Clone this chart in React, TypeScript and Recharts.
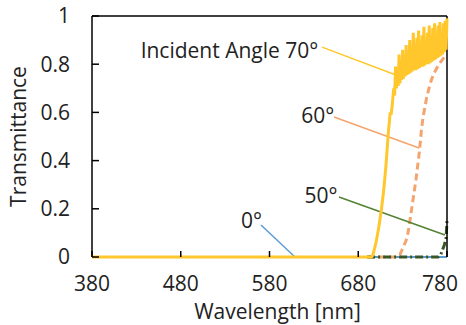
import React from 'react';
import { LineChart, Line, XAxis, YAxis, ReferenceLine, ReferenceDot } from 'recharts';

const FONT = '"Open Sans", sans-serif';
const TEXT = '#222';

// axes
const xTicks = [380, 480, 580, 680, 780];
const yTicks = [0, 0.2, 0.4, 0.6, 0.8, 1];
const xMin = 380;
const xMax = 780;
const yMin = 0;
const yMax = 1;

// 0 deg
const wl0 = [380, 780];
const t0 = [0, 0];

// 50 deg
const wl50 = [690, 770, 773, 775, 777, 779, 780];
const t50 = [0, 0, 0.01, 0.03, 0.05, 0.08, 0.15];

// 60 deg
const wl60 = [690, 724, 727, 730, 733, 735, 737, 739, 741, 743, 745, 747, 749, 751, 753, 755, 757, 759, 762, 765, 768, 771, 774, 777, 780];
const t60 = [0, 0, 0.01, 0.035, 0.06, 0.08, 0.12, 0.17, 0.22, 0.27, 0.32, 0.38, 0.44, 0.52, 0.58, 0.62, 0.66, 0.69, 0.73, 0.76, 0.78, 0.8, 0.815, 0.83, 0.84];

// 70 deg
const wl70 = [380, 695, 696, 697, 698, 699, 700, 701, 702, 703, 704, 705, 706, 707, 708, 709, 710, 711, 712, 713, 714, 715, 716, 717, 718,
  719, 720, 721, 722, 723, 724, 725, 726, 727, 728, 729, 730, 731, 732, 733, 734, 735, 736, 737, 738, 739, 740,
  741, 742, 743, 744, 745, 746, 747, 748, 749, 750, 751, 752, 753, 754, 755, 756, 757, 758, 759, 760,
  761, 762, 763, 764, 765, 766, 767, 768, 769, 770, 771, 772, 773, 774, 775, 776, 777, 778, 779, 780];
const t70 = [0, 0, 0.005, 0.015, 0.03, 0.045, 0.06, 0.08, 0.1, 0.12, 0.145, 0.17, 0.195, 0.225, 0.255, 0.29, 0.33, 0.37, 0.42, 0.47, 0.52, 0.56, 0.6, 0.59, 0.62,
  0.66, 0.7, 0.67, 0.79, 0.7, 0.76, 0.71, 0.84, 0.72, 0.8, 0.735, 0.86, 0.74, 0.82, 0.75, 0.88, 0.755, 0.84, 0.76, 0.9, 0.765, 0.85,
  0.77, 0.93, 0.775, 0.86, 0.775, 0.91, 0.78, 0.94, 0.785, 0.87, 0.79, 0.92, 0.79, 0.955, 0.795, 0.88, 0.8, 0.93, 0.8, 0.96,
  0.805, 0.89, 0.81, 0.95, 0.815, 0.97, 0.82, 0.91, 0.825, 0.96, 0.83, 0.975, 0.835, 0.92, 0.84, 0.97, 0.85, 0.98, 0.86, 0.99];

// annotations
const labelTexts = ['0°', '50°', '60°', 'Incident Angle 70°'];
const labelX = [571.5, 656.5, 653, 635];
const labelY = [0.12, 0.224, 0.556, 0.826];
const leaderX1 = [570.4, 658.3, 652.7, 639.2];
const leaderY1 = [0.133, 0.249, 0.581, 0.871];
const leaderX2 = [608.7, 777.7, 748.5, 722.5];
const leaderY2 = [0, 0.091, 0.452, 0.755];
const leaderColors = ['#5B9BD5', '#548235', '#F4A46E', '#FFC72C'];

const zip = (xs: number[], ys: number[]) => xs.map((x, i) => ({ x, y: ys[i] }));

const AnnText = (props: any) => {
  const { viewBox, text } = props;
  return (
    <text x={viewBox.x} y={viewBox.y} textAnchor="end" fontSize={21} fontFamily={FONT} fill={TEXT}>
      {text}
    </text>
  );
};

const XTick = (props: any) => {
  const { x, y, payload } = props;
  const last = payload.value === 780;
  return (
    <text x={last ? x + 11 : x} y={y} dy={15} textAnchor={last ? 'end' : 'middle'} fontSize={21} fontFamily={FONT} fill={TEXT}>
      {payload.value}
    </text>
  );
};

const XTitle = (props: any) => {
  const { viewBox } = props;
  return (
    <text x={viewBox.x + viewBox.width / 2 + 8} y={viewBox.y + 62} textAnchor="middle" fontSize={21} fontFamily={FONT} fill={TEXT}>
      Wavelength [nm]
    </text>
  );
};

const YTitle = (props: any) => {
  const { viewBox } = props;
  const cy = viewBox.y + viewBox.height / 2;
  return (
    <text x={18} y={cy} transform={`rotate(-90 18 ${cy})`} textAnchor="middle" dominantBaseline="central" fontSize={21} fontFamily={FONT} fill={TEXT}>
      Transmittance
    </text>
  );
};

export default function App() {
  return (
    <div style={{ position: 'absolute', left: 0, top: 0, width: 466, height: 325, background: '#fff' }}>
      <LineChart width={466} height={325} margin={{ top: 16, right: 19, bottom: 0, left: 0 }}>
        <XAxis
          type="number"
          dataKey="x"
          domain={[xMin, xMax]}
          ticks={xTicks}
          height={68}
          axisLine={false}
          tickSize={-6}
          tickMargin={25}
          tickLine={{ stroke: '#000', strokeWidth: 1.5 }}
          tick={<XTick />}
          label={<XTitle />}
        />
        <YAxis
          type="number"
          dataKey="y"
          domain={[yMin, yMax]}
          ticks={yTicks}
          width={92}
          axisLine={false}
          tickSize={-7}
          tickMargin={29}
          tickLine={{ stroke: '#000', strokeWidth: 1.5 }}
          tick={{ fontSize: 21, fontFamily: FONT, fill: TEXT }}
          label={<YTitle />}
        />
        <ReferenceLine segment={[{ x: xMin, y: yMin }, { x: xMin, y: yMax }]} stroke="#000" strokeWidth={1.5} ifOverflow="visible" />
        <ReferenceLine segment={[{ x: xMin, y: yMax }, { x: xMax, y: yMax }]} stroke="#000" strokeWidth={1.5} ifOverflow="visible" />
        <ReferenceLine segment={[{ x: xMax, y: yMax }, { x: xMax, y: yMin }]} stroke="#000" strokeWidth={1.5} ifOverflow="visible" />
        <Line zIndex={390} data={zip(wl0, t0)} dataKey="y" type="linear" stroke="#5B9BD5" strokeWidth={2} dot={false} isAnimationActive={false} />
        <Line zIndex={395} data={zip(wl60, t60)} dataKey="y" type="linear" stroke="#F4A46E" strokeWidth={3} strokeDasharray="7 4" dot={false} isAnimationActive={false} />
        <Line zIndex={398} data={zip(wl50, t50)} dataKey="y" type="linear" stroke="#385723" strokeWidth={3} strokeDasharray="8 3 2 3" dot={false} isAnimationActive={false} />
        <Line zIndex={410} data={zip(wl70, t70)} dataKey="y" type="linear" stroke="#FFC72C" strokeWidth={3} dot={false} isAnimationActive={false} />
        {labelTexts.map((t, i) => (
          <ReferenceLine
            key={'l' + i}
            segment={[{ x: leaderX1[i], y: leaderY1[i] }, { x: leaderX2[i], y: leaderY2[i] }]}
            stroke={leaderColors[i]}
            strokeWidth={1.5}
            ifOverflow="visible"
          />
        ))}
        {labelTexts.map((t, i) => (
          <ReferenceDot
            key={'t' + i}
            x={labelX[i]}
            y={labelY[i]}
            r={0}
            fill="none"
            stroke="none"
            ifOverflow="visible"
            label={<AnnText text={t} />}
          />
        ))}
      </LineChart>
    </div>
  );
}
